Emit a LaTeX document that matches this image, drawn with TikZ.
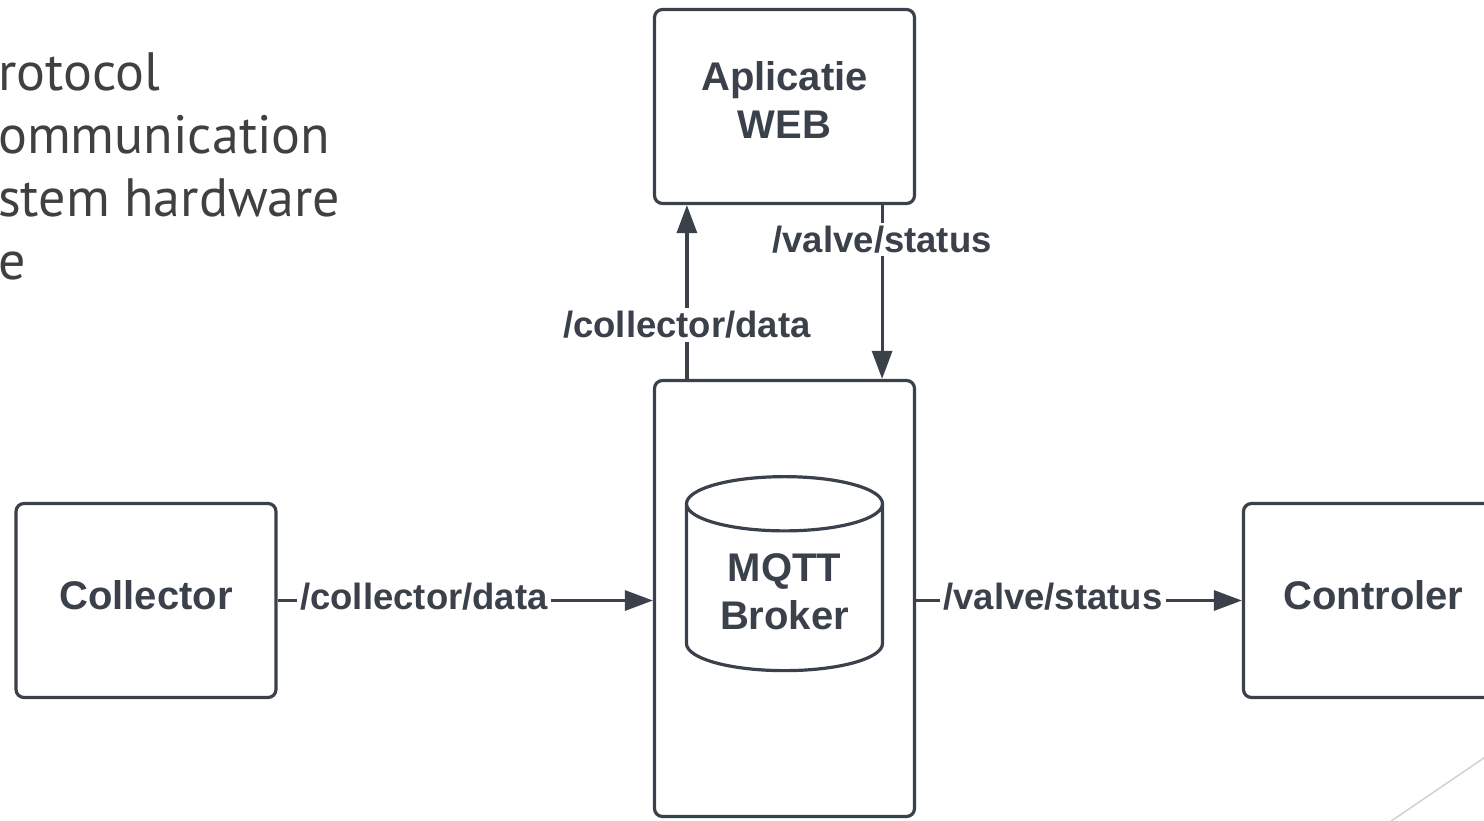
\documentclass[tikz,border=0pt]{standalone}
\usepackage{fontspec}
\setmainfont{Liberation Sans}
\newfontfamily\slidefont{PT Sans}
\usetikzlibrary{arrows.meta,shapes.geometric}
\definecolor{ink}{HTML}{3A414A}
\definecolor{slidegray}{HTML}{404040}
\begin{document}
\begin{tikzpicture}[x=1pt,y=-1pt,
	boxtext/.style={text=ink,align=center,font=\fontsize{40}{48}\selectfont\bfseries},
	box/.style={boxtext,draw=ink,line width=3.2pt,rounded corners=8pt,minimum width=260pt,minimum height=194pt,text depth=12pt},
	store/.style={boxtext,draw=ink,line width=3.2pt,cylinder,shape border rotate=90,aspect=0.4,minimum width=196pt,minimum height=194pt},
	flow/.style={draw=ink,line width=3.2pt,-{Triangle[length=28pt,width=20pt]}},
	topic/.style={fill=white,inner sep=3pt,yshift=4pt,text=ink,font=\fontsize{36.5}{40}\selectfont\bfseries},
	slide/.style={anchor=base west,inner sep=0pt,text=slidegray,font=\slidefont\fontsize{54}{64}\selectfont}]
\clip (0,0) rectangle (1484,820);
% slide text behind the diagram
\foreach \t [count=\i] in {rotocol,ommunication,stem hardware,e}
	\node[slide] (line\i) at (-2,26.7+63.3*\i) {\t};
\draw[black!18,line width=1.5pt] (1378,830) -- (1500,747);
% boxes
\node[box] (app) at (784.5,106.5) {Aplicatie\\WEB};
\node[box,minimum height=436pt] (broker) at (784.5,598.5) {};
\node[store] (mqtt) at (784.5,591.5) {MQTT\\Broker};
\node[box] (coll) at (146,600.5) {Collector};
\node[box] (ctrl) at (1373.5,600.5) {Controler};
% topics
\draw[flow] (coll.east) -- node[topic,pos=0.39] {/collector/data} (coll.east -| broker.west);
\draw[flow] (ctrl.west -| broker.east) -- node[topic,pos=0.42] {/valve/status} (ctrl.west);
\draw[flow] ([xshift=34pt]broker.north west) -- node[topic,yshift=-4pt,pos=0.31] {/collector/data} ([xshift=34pt]app.south west);
\draw[flow] ([xshift=-34pt]app.south east) -- node[topic,yshift=-4pt,pos=0.2] {/valve/status} ([xshift=-34pt]broker.north east);
\end{tikzpicture}
\end{document}
